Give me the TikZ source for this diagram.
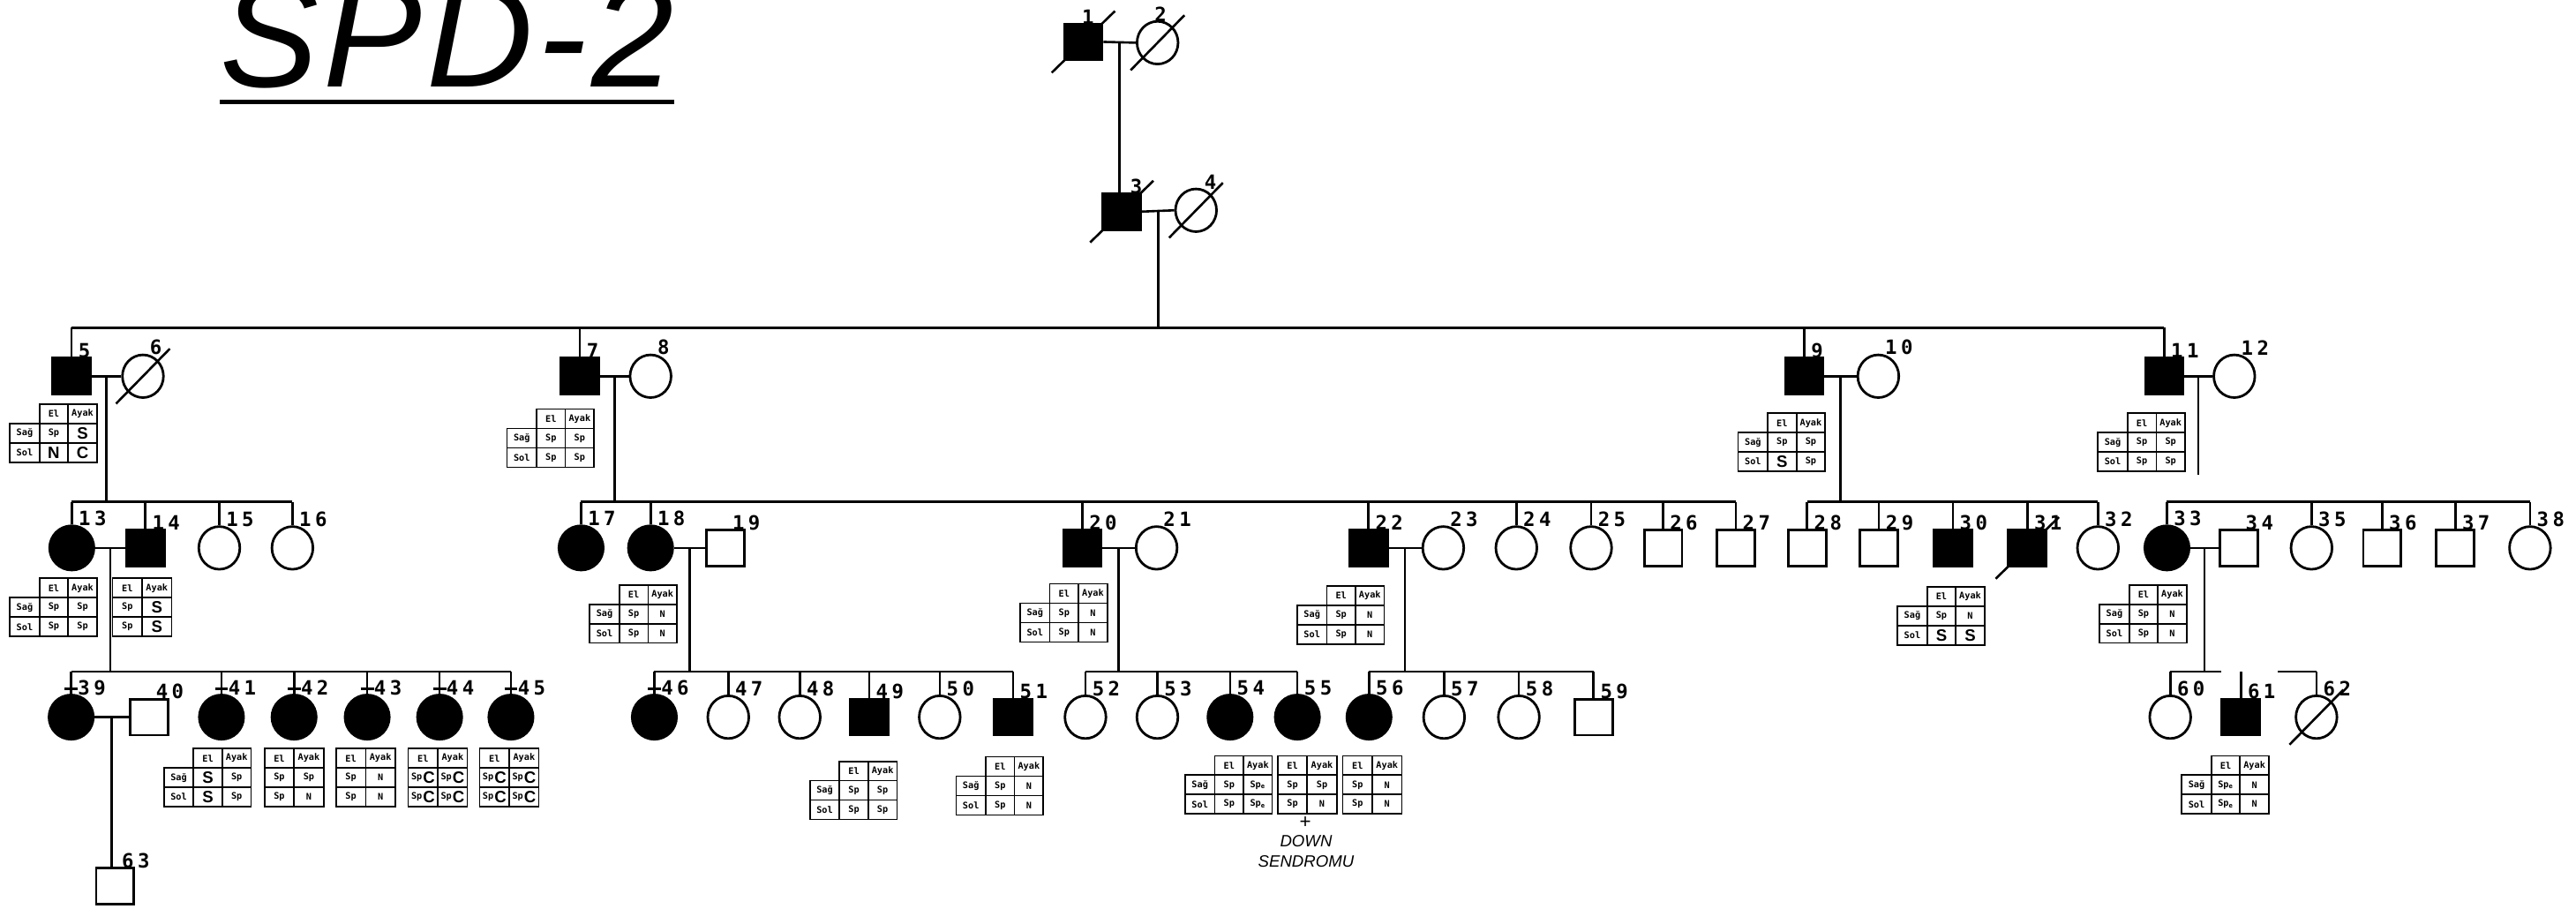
\documentclass[tikz,border=0pt]{standalone}
\usepackage{fontspec}
\usepackage{tikz}
\usetikzlibrary{positioning,shapes.geometric,calc}
\setmainfont{Liberation Sans}
\newfontfamily\numfont{DejaVu Sans Mono}[LetterSpace=20]
\newfontfamily\tabfont{DejaVu Sans Mono}
\newfontfamily\handfont{Liberation Sans}
\newfontfamily\titlefont{Liberation Sans}[LetterSpace=3]
\newcommand{\hand}[1]{{\handfont\fontsize{10}{10}\selectfont #1}}
\newcommand{\spc}{Sp\hspace{0.5pt}\raisebox{-2pt}{\hand{C}}}
\newcommand{\spe}{Sp\textsubscript{e}}

\tikzset{
  male/.style={draw,rectangle,line width=1.5pt,minimum width=23pt,minimum height=22pt,inner sep=0pt},
  female/.style={draw,ellipse,line width=1.5pt,minimum width=25pt,minimum height=26pt,inner sep=0pt},
  mA/.style={male,fill=black},
  mU/.style={male,fill=white},
  fA/.style={female,fill=black,minimum width=27pt,minimum height=27pt},
  fU/.style={female,fill=white},
  num/.style={font=\numfont\bfseries\fontsize{12}{12}\selectfont,anchor=south west,inner sep=0pt},
  pedline/.style={line width=1.4pt},
  gridline/.style={line width=0.9pt},
  tabtxt/.style={font=\tabfont\bfseries\fontsize{5.5}{6}\selectfont,inner sep=0pt},
}

% El/Ayak table with row labels: name, left, top, four cells
\newcommand{\ElAyak}[7]{%
  \begin{scope}[shift={(#2,#3)}]
    \draw[gridline] (18,0) rectangle (53,35.4) (0,11.8) rectangle (53,35.4)
      (35.5,0) -- (35.5,35.4) (0,23.6) -- (53,23.6);
    \node[tabtxt] (#1-el) at (26.75,5.9) {El};
    \node[tabtxt] (#1-ay) at (44.25,5.9) {Ayak};
    \node[tabtxt] (#1-sa) at (9,17.7) {Sağ};
    \node[tabtxt] (#1-so) at (9,29.5) {Sol};
    \node[tabtxt] (#1-a) at (26.75,17.7) {#4};
    \node[tabtxt] (#1-b) at (44.25,17.7) {#5};
    \node[tabtxt] (#1-c) at (26.75,29.5) {#6};
    \node[tabtxt] (#1-d) at (44.25,29.5) {#7};
  \end{scope}}
% El/Ayak table without row labels
\newcommand{\ElAyakShort}[7]{%
  \begin{scope}[shift={(#2,#3)}]
    \draw[gridline] (0,0) rectangle (36,35.4) (18,0) -- (18,35.4)
      (0,11.8) -- (36,11.8) (0,23.6) -- (36,23.6);
    \node[tabtxt] (#1-el) at (9,5.9) {El};
    \node[tabtxt] (#1-ay) at (27,5.9) {Ayak};
    \node[tabtxt] (#1-a) at (9,17.7) {#4};
    \node[tabtxt] (#1-b) at (27,17.7) {#5};
    \node[tabtxt] (#1-c) at (9,29.5) {#6};
    \node[tabtxt] (#1-d) at (27,29.5) {#7};
  \end{scope}}

\begin{document}
\begin{tikzpicture}[x=1pt,y=-1pt]
  \useasboundingbox (0,0) rectangle (1568,553);
  \coordinate (g2) at (0,199.5);
  \coordinate (g3) at (0,305.5);
  \coordinate (g4) at (0,408.8);

  % title
  \node[anchor=base west,inner sep=0pt,font=\titlefont\itshape\fontsize{90}{90}\selectfont] (title) at (134,53) {SPD-2};
  \draw[line width=2.6pt] ([yshift=-8pt]title.south west) -- ([yshift=-8pt]title.south east);

  % generation I
  \node[mA] (p1) at (659.4,25.5) {};
  \node[fU] (p2) at (704.6,26) {};
  \node[mA] (p3) at (682.8,128.8) {};
  \node[fU] (p4) at (728,128) {};
  \node[num] (n1) at ([xshift=-1pt,yshift=-1pt]p1.north) {1};
  \node[num] (n2) at ([xshift=-2pt,yshift=-1pt]p2.north) {2};
  \node[num] (n3) at ([xshift=5pt,yshift=-1pt]p3.north) {3};
  \node[num] (n4) at ([xshift=5pt,yshift=-1pt]p4.north) {4};

  % generation II
  \foreach \k/\x/\s in {5/43.5/mA,6/87/fU,7/353/mA,8/396/fU,9/1098.3/mA,10/1143.3/fU,11/1317.3/mA,12/1360/fU}
    \node[\s] (p\k) at (\x,229) {};

  % generation III
  \foreach \k/\x/\s in {13/43.7/fA,14/88.5/mA,15/133.5/fU,16/178/fU,17/353.7/fA,18/396/fA,19/441.7/mU,
      20/658.8/mA,21/704/fU,22/833/mA,23/878.5/fU,24/923/fU,25/968.5/fU,26/1012.3/mU,27/1056.5/mU,
      28/1100/mU,29/1143.7/mU,30/1188.7/mA,31/1234/mA,32/1277/fU,33/1319/fA,34/1362.7/mU,
      35/1407/fU,36/1450/mU,37/1494.5/mU,38/1540/fU}
    \node[\s] (p\k) at (\x,333.5) {};

  % generation IV
  \foreach \k/\x/\s in {39/43.3/fA,40/90.8/mU,41/134.8/fA,42/179/fA,43/223.5/fA,44/267.6/fA,45/311/fA,
      46/398.3/fA,47/443.3/fU,48/486.8/fU,49/529/mA,50/572/fU,51/616.6/mA,52/660.7/fU,53/704.5/fU,
      54/748.7/fA,55/789.7/fA,56/833.3/fA,57/879/fU,58/924.5/fU,59/970/mU,60/1321/fU,61/1364/mA,62/1410/fU}
    \node[\s] (p\k) at (\x,436.5) {};

  % generation V
  \node[mU] (p63) at (70,539.3) {};

  \foreach \k in {5,...,63}
    \node[num] (n\k) at ([xshift=4pt,yshift=-1pt]p\k.north) {\k};

  % deceased
  \foreach \k in {1,2,3,4,6,31,62}
    \draw[pedline] ([shift={(-7,7)}]p\k.south west) -- ([shift={(7,-7)}]p\k.north east);

  % marriages
  \foreach \a/\b in {1/2,3/4,5/6,7/8,9/10,11/12,13/14,18/19,20/21,22/23,33/34,39/40}
    \draw[pedline] (p\a.east) -- coordinate[midway] (c\a) (p\b.west);

  \draw[pedline] (c1) -- (c1 |- p3.north);
  \draw[pedline] (c3) -- (c3 |- g2);
  \draw[pedline] (p5 |- g2) -- (p11 |- g2);
  \foreach \k in {5,7,9,11}
    \draw[pedline] (p\k |- g2) -- (p\k.north);

  % sibships of generation III
  \draw[pedline] (c5) -- (c5 |- g3) (p13 |- g3) -- (p16 |- g3);
  \draw[pedline] (c7) -- (c7 |- g3) (p17 |- g3) -- (p27 |- g3);
  \draw[pedline] (c9) -- (c9 |- g3) (p28 |- g3) -- (p32 |- g3);
  \draw[pedline] (c11) -- ++(0,60);
  \draw[pedline] (p33 |- g3) -- (p38 |- g3);
  \foreach \k in {13,14,15,16,17,18,20,22,24,25,26,27,28,29,30,31,32,33,35,36,37,38}
    \draw[pedline] (p\k |- g3) -- (p\k.north);

  % sibships of generation IV
  \draw[pedline] (c13) -- (c13 |- g4) (p39 |- g4) -- (p45 |- g4);
  \draw[pedline] (c18) -- (c18 |- g4) (p46 |- g4) -- (p51 |- g4);
  \draw[pedline] (c20) -- (c20 |- g4) (p52 |- g4) -- (p55 |- g4);
  \draw[pedline] (c22) -- (c22 |- g4) (p56 |- g4) -- (p59 |- g4);
  \draw[pedline] (c33) -- (c33 |- g4) (p60 |- g4) -- ++(31,0) (p62 |- g4) -- ++(-23.5,0);
  \foreach \k in {39,41,42,43,44,45,46,47,48,49,50,51,52,53,54,55,56,57,58,59,60,61,62}
    \draw[pedline] (p\k |- g4) -- (p\k.north);
  \foreach \k in {39,41,42,43,44,45,46}
    \draw[pedline] ([yshift=3pt]p\k.north) ++(-4,0) -- ++(8,0);

  \draw[pedline] (c39) -- (c39 |- p63.north);

  % El / Ayak tables
  \ElAyak{t5}{6}{246}{Sp}{\hand{S}}{\hand{N}}{\hand{C}}
  \ElAyak{t7}{308.6}{249}{Sp}{Sp}{Sp}{Sp}
  \ElAyak{t9}{1058}{251.5}{Sp}{Sp}{\hand{S}}{Sp}
  \ElAyak{t11}{1277}{251.5}{Sp}{Sp}{Sp}{Sp}
  \ElAyak{t13}{6}{352}{Sp}{Sp}{Sp}{Sp}
  \ElAyakShort{t14}{68.5}{352}{Sp}{\hand{S}}{Sp}{\hand{S}}
  \ElAyak{t18}{359}{356}{Sp}{N}{Sp}{N}
  \ElAyak{t20}{621}{355.4}{Sp}{N}{Sp}{N}
  \ElAyak{t22}{789.6}{356.7}{Sp}{N}{Sp}{N}
  \ElAyak{t31}{1155}{357.2}{Sp}{N}{\hand{S}}{\hand{S}}
  \ElAyak{t33}{1278}{356}{Sp}{N}{Sp}{N}
  \ElAyak{t41}{99.8}{455.6}{\hand{S}}{Sp}{\hand{S}}{Sp}
  \ElAyakShort{t42}{161}{455.6}{Sp}{Sp}{Sp}{N}
  \ElAyakShort{t43}{204.6}{455.6}{Sp}{N}{Sp}{N}
  \ElAyakShort{t44}{248.5}{455.6}{\spc}{\spc}{\spc}{\spc}
  \ElAyakShort{t45}{292}{455.6}{\spc}{\spc}{\spc}{\spc}
  \ElAyak{t49}{493}{463.4}{Sp}{Sp}{Sp}{Sp}
  \ElAyak{t51}{582}{460.7}{Sp}{N}{Sp}{N}
  \ElAyak{t54}{721.4}{460}{Sp}{\spe}{Sp}{\spe}
  \ElAyakShort{t55}{777.7}{460}{Sp}{Sp}{Sp}{N}
  \ElAyakShort{t56}{817.3}{460}{Sp}{N}{Sp}{N}
  \ElAyak{t61}{1328}{460}{\spe}{N}{\spe}{N}

  \node[font=\handfont\fontsize{12}{12}\selectfont,inner sep=0pt] (plus) at (794.5,500.5) {+};
  \node[font=\handfont\itshape\fontsize{10}{12.6}\selectfont,align=center,inner sep=0pt,anchor=north] (down) at (795,508) {DOWN\\SENDROMU};
\end{tikzpicture}
\end{document}
